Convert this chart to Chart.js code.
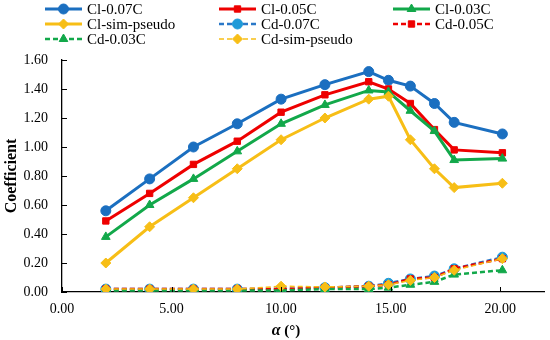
<!DOCTYPE html>
<html>
<head>
<meta charset="utf-8">
<script src="https://cdn.jsdelivr.net/npm/chart.js@4/dist/chart.umd.min.js"></script>
<style>
  html, body { margin: 0; padding: 0; background: #fff; }
  #wrap { width: 550px; height: 340px; position: relative; }
</style>
</head>
<body>
<div id="wrap"><canvas id="coefChart"></canvas></div>
<script>
// Angle of attack (deg)
const alpha = [2, 4, 6, 8, 10, 12, 14, 14.9, 15.9, 17, 17.9, 20.1];

// Lift coefficients
const cl007 = [0.56, 0.78, 1.00, 1.16, 1.33, 1.43, 1.52, 1.46, 1.42, 1.30, 1.17, 1.09];
const cl005 = [0.49, 0.68, 0.88, 1.04, 1.24, 1.36, 1.45, 1.40, 1.30, 1.12, 0.98, 0.96];
const cl003 = [0.38, 0.60, 0.78, 0.97, 1.16, 1.29, 1.39, 1.38, 1.25, 1.11, 0.91, 0.92];
const clSim = [0.20, 0.45, 0.65, 0.85, 1.05, 1.20, 1.33, 1.35, 1.05, 0.85, 0.72, 0.75];

// Drag coefficients
const cd007 = [0.02, 0.02, 0.02, 0.02, 0.02, 0.03, 0.04, 0.06, 0.09, 0.11, 0.16, 0.24];
const cd005 = [0.02, 0.02, 0.02, 0.02, 0.02, 0.03, 0.04, 0.05, 0.09, 0.10, 0.16, 0.23];
const cd003 = [0.01, 0.01, 0.01, 0.01, 0.01, 0.02, 0.02, 0.03, 0.05, 0.07, 0.12, 0.15];
const cdSim = [0.02, 0.02, 0.02, 0.02, 0.04, 0.035, 0.04, 0.05, 0.08, 0.10, 0.15, 0.23];

const xTicks = [0, 5, 10, 15, 20];

const FONT = '"Liberation Serif", "Times New Roman", serif';

function pts(vals) {
  return alpha.map((a, i) => ({ x: a, y: vals[i] }));
}

function series(label, vals, color, markerColor, style, dashed, width) {
  return {
    label: label,
    data: pts(vals),
    borderColor: color,
    backgroundColor: markerColor,
    pointBackgroundColor: markerColor,
    pointBorderColor: markerColor,
    pointBorderWidth: 1,
    pointStyle: style,
    pointRadius: style === 'rect' ? 4.5 : 5,
    borderWidth: width,
    borderDash: dashed ? [5, 3] : [],
    showLine: true,
    tension: 0
  };
}

const datasets = [
  series('Cl-0.07C', cl007, '#1b6fc0', '#1b6fc0', 'circle', false, 3),
  series('Cl-0.05C', cl005, '#ee0000', '#ee0000', 'rect', false, 3),
  series('Cl-0.03C', cl003, '#12a84a', '#12a84a', 'triangle', false, 3),
  series('Cl-sim-pseudo', clSim, '#f7be16', '#f7be16', 'rectRot', false, 3),
  series('Cd-0.07C', cd007, '#2a78c8', '#1e9ad8', 'circle', true, 2.5),
  series('Cd-0.05C', cd005, '#ee0000', '#ee0000', 'rect', true, 2.5),
  series('Cd-0.03C', cd003, '#12a84a', '#12a84a', 'triangle', true, 2.5),
  series('Cd-sim-pseudo', cdSim, '#f7be16', '#f7be16', 'rectRot', true, 1.5)
];
// later series are painted on top, as in Excel
datasets.forEach((ds, i) => { ds.order = datasets.length - i; });

// Legend in a 3-column grid, like the Excel original
const legendGrid = {
  id: 'legendGrid',
  afterDraw(chart) {
    const ctx = chart.ctx;
    const colX = [45, 219, 393];
    chart.data.datasets.forEach((ds, i) => {
      const x0 = colX[i % 3];
      const y = 9 + Math.floor(i / 3) * 15;
      ctx.save();
      ctx.strokeStyle = ds.borderColor;
      ctx.lineWidth = ds.borderWidth;
      ctx.setLineDash(ds.borderDash);
      ctx.beginPath();
      ctx.moveTo(x0, y);
      ctx.lineTo(x0 + 37, y);
      ctx.stroke();
      ctx.setLineDash([]);
      ctx.fillStyle = ds.pointBackgroundColor;
      ctx.strokeStyle = ds.pointBorderColor;
      ctx.lineWidth = 1;
      Chart.helpers.drawPoint(ctx, { pointStyle: ds.pointStyle, radius: ds.pointRadius, borderWidth: 1 }, x0 + 18.5, y);
      ctx.fillStyle = '#000';
      ctx.font = '15px ' + FONT;
      ctx.textBaseline = 'middle';
      ctx.fillText(ds.label, x0 + 42, y + 1);
      ctx.restore();
    });
  }
};

// Inside tick marks and the x axis title
const axisExtras = {
  id: 'axisExtras',
  afterDraw(chart) {
    const ctx = chart.ctx;
    const xs = chart.scales.x, ys = chart.scales.y;
    ctx.save();
    ctx.strokeStyle = '#000';
    ctx.lineWidth = 1;
    ys.ticks.forEach(t => {
      const py = Math.round(ys.getPixelForValue(t.value)) + 0.5;
      ctx.beginPath();
      ctx.moveTo(ys.right, py);
      ctx.lineTo(ys.right + 5, py);
      ctx.stroke();
    });
    xs.ticks.forEach(t => {
      const px = Math.round(xs.getPixelForValue(t.value)) + 0.5;
      ctx.beginPath();
      ctx.moveTo(px, xs.top);
      ctx.lineTo(px, xs.top - 5);
      ctx.stroke();
    });
    // x axis title: italic alpha, then (°)
    ctx.fillStyle = '#000';
    ctx.textBaseline = 'middle';
    ctx.font = 'italic bold 16px ' + FONT;
    const a = '\u03B1';
    const wa = ctx.measureText(a).width;
    ctx.font = 'bold 15px ' + FONT;
    const rest = ' (\u00B0)';
    const wr = ctx.measureText(rest).width;
    const x0 = 286 - (wa + wr) / 2;
    ctx.font = 'italic bold 16px ' + FONT;
    ctx.fillText(a, x0, 331);
    ctx.font = 'bold 15px ' + FONT;
    ctx.fillText(rest, x0 + wa, 331);
    ctx.restore();
  }
};

const ctx = document.getElementById('coefChart').getContext('2d');
new Chart(ctx, {
  type: 'scatter',
  data: { datasets: datasets },
  plugins: [legendGrid, axisExtras],
  options: {
    responsive: true,
    maintainAspectRatio: false,
    animation: false,
    layout: { padding: { top: 60, right: 3, left: 0, bottom: 0 } },
    plugins: {
      legend: { display: false },
      tooltip: { enabled: false }
    },
    scales: {
      x: {
        type: 'linear',
        min: 0,
        max: 22,
        afterFit: s => { s.height = 48; },
        afterBuildTicks: s => { s.ticks = xTicks.map(v => ({ value: v })); },
        grid: { display: false, drawTicks: false },
        border: { display: true, color: '#000', width: 1.3 },
        ticks: {
          color: '#000',
          font: { family: FONT, size: 14 },
          padding: 9,
          callback: v => v.toFixed(2)
        }
      },
      y: {
        min: 0,
        max: 1.6,
        afterFit: s => { s.width = 62; },
        grid: { display: false, drawTicks: false },
        border: { display: true, color: '#000', width: 1.3 },
        ticks: {
          stepSize: 0.2,
          color: '#000',
          font: { family: FONT, size: 14 },
          padding: 14,
          callback: v => v.toFixed(2)
        },
        title: {
          display: true,
          text: 'Coefficient',
          color: '#000',
          font: { family: FONT, size: 16, weight: 'bold' },
          padding: { top: 2, bottom: 0 }
        }
      }
    }
  }
});
</script>
</body>
</html>
